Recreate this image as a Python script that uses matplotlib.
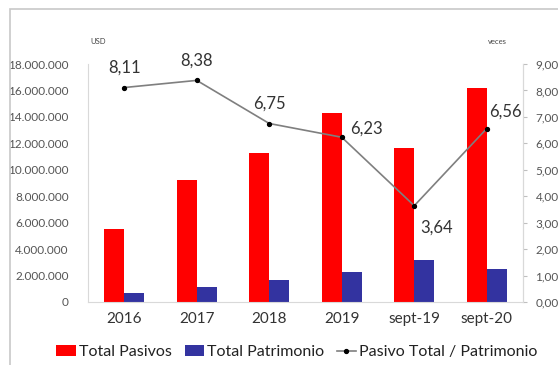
import matplotlib.pyplot as plt
import numpy as np
from matplotlib.ticker import FuncFormatter, MultipleLocator
from matplotlib.patches import Rectangle

plt.rcParams['font.family'] = ['Lato', 'DejaVu Sans']

periodos = ["2016", "2017", "2018", "2019", "sept-19", "sept-20"]
total_pasivos = [5520000, 9230000, 11270000, 14300000, 11650000, 16200000]
total_patrimonio = [680000, 1130000, 1670000, 2290000, 3200000, 2470000]
pasivo_patrimonio = [8.11, 8.38, 6.75, 6.23, 3.64, 6.56]

# label offsets in points (dx, dy, ha)
offs = [(0, 14, 'center'), (0, 14, 'center'), (0, 14, 'center'),
        (6, 6, 'left'), (4, -16, 'left'), (2, 12, 'left')]

fig = plt.figure(figsize=(5.58, 3.65), dpi=100)
fig.patches.append(Rectangle((10 / 558, -0.1), 1.2, 1 - 9 / 365 + 0.1,
                             transform=fig.transFigure, fill=False,
                             edgecolor='#c8c8c8', linewidth=1.2))

ax = fig.add_axes([88 / 558, 1 - 302 / 365, 435 / 558, 238 / 365])
x = np.arange(len(periodos))
w = 0.275
ax.bar(x - w / 2, total_pasivos, w, color='#ff0000', label='Total Pasivos')
ax.bar(x + w / 2, total_patrimonio, w, color='#3333a0', label='Total Patrimonio')
ax.set_xlim(-0.5, len(periodos) - 0.5)
ax.set_ylim(0, 18000000)
ax.yaxis.set_major_locator(MultipleLocator(2000000))
ax.yaxis.set_major_formatter(FuncFormatter(lambda v, p: f"{int(v):,}".replace(",", ".")))
ax.set_xticks(x)
ax.set_xticklabels(periodos, fontsize=11, color='#333333')
ax.tick_params(axis='x', length=0, pad=7)
ax.tick_params(axis='y', length=0, pad=14, labelsize=8.5, labelcolor='#555555')
ax.spines['top'].set_visible(False)
for s in ['left', 'right', 'bottom']:
    ax.spines[s].set_color('#d9d9d9')

ax2 = ax.twinx()
ln, = ax2.plot(x, pasivo_patrimonio, color='#7f7f7f', linewidth=1.2,
               marker='o', markersize=2.8, markerfacecolor='black',
               markeredgecolor='black', label='Pasivo Total / Patrimonio')
ax2.set_ylim(0, 9)
ax2.yaxis.set_major_locator(MultipleLocator(1))
ax2.yaxis.set_major_formatter(FuncFormatter(lambda v, p: f"{v:.2f}".replace(".", ",")))
ax2.tick_params(axis='y', length=3, color='#bfbfbf', pad=6, labelsize=8.5, labelcolor='#555555')
for s in ['top', 'left', 'bottom']:
    ax2.spines[s].set_visible(False)
ax2.spines['right'].set_color('#d9d9d9')

for xi, v, (dx, dy, ha) in zip(x, pasivo_patrimonio, offs):
    ax2.annotate(f"{v:.2f}".replace(".", ","), (xi, v), xytext=(dx, dy),
                 textcoords='offset points', ha=ha, va='center',
                 fontsize=12, color='#333333')

fig.text(90 / 558, 1 - 42 / 365, "USD", fontsize=5.5, color='#444444', va='center')
fig.text(488 / 558, 1 - 42 / 365, "veces", fontsize=5.5, color='#444444', va='center')

h1, l1 = ax.get_legend_handles_labels()
fig.legend(h1 + [ln], l1 + [ln.get_label()], loc='center',
           bbox_to_anchor=(297 / 558, 1 - 352 / 365), ncol=3, frameon=False,
           fontsize=11.5, handlelength=1.2, handleheight=0.7, handletextpad=0.2,
           columnspacing=0.8, labelcolor='#222222', borderaxespad=0)

fig.savefig('out.png', dpi=100)
